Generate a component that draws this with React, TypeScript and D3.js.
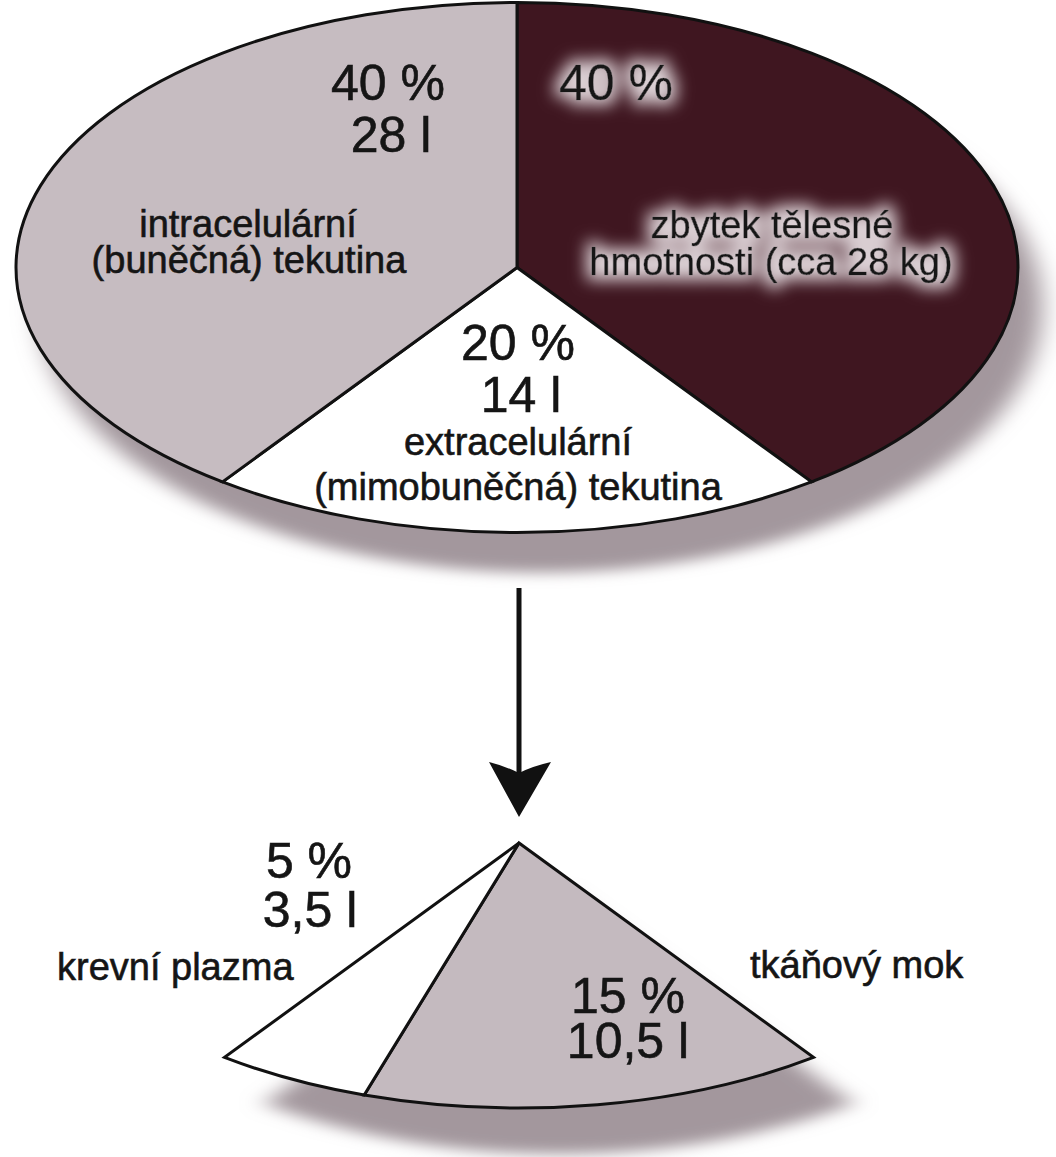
import React from "react";
import * as d3 from "d3";

// ---- data ----
const topCategories = ["zbytek tělesné hmotnosti", "extracelulární tekutina", "intracelulární tekutina"];
const topPercent = [40, 20, 40];
const topLiters = ["", "14 l", "28 l"];
const topNames = [
  ["zbytek tělesné", "hmotnosti (cca 28 kg)"],
  ["extracelulární", "(mimobuněčná) tekutina"],
  ["intracelulární", "(buněčná) tekutina"],
];
const topColors = ["#3f1620", "#ffffff", "#c6bcc1"];

const bottomCategories = ["tkáňový mok", "krevní plazma"];
const bottomPercent = [15, 5];
const bottomLiters = ["10,5 l", "3,5 l"];
const bottomColors = ["#c4babf", "#ffffff"];

// ---- layout ----
const W = 1056;
const H = 1157;
const CX = 517;
const CY = 267.5;
const RX = 501;
const RY = 265;
const AX = 519;
const AY = 843;

const pctText = (v: number) => `${v} %`;

export default function App() {
  const pieTop = d3.pie<number>().sort(null).value((d) => d)(topPercent);
  const extracellular = pieTop[1];
  const pieBottom = d3
    .pie<number>()
    .sort(null)
    .startAngle(extracellular.startAngle)
    .endAngle(extracellular.endAngle)
    .value((d) => d)(bottomPercent);

  const arc = d3.arc<d3.PieArcDatum<number>>().innerRadius(0).outerRadius(RX);
  const ellipseTf = (x: number, y: number) => `translate(${x},${y}) scale(1,${RY / RX})`;
  const fullArc = d3.arc()({ innerRadius: 0, outerRadius: RX, startAngle: 0, endAngle: Math.PI * 2 }) as string;
  const wedgeArc = d3.arc()({
    innerRadius: 0,
    outerRadius: RX,
    startAngle: extracellular.startAngle,
    endAngle: extracellular.endAngle,
  }) as string;

  const font = "'Liberation Sans', Arial, Helvetica, sans-serif";
  const big = 50;
  const small = 38;

  return (
    <svg width={W} height={H} style={{ position: "absolute", left: 0, top: 0, background: "#fff" }}>
      <defs>
        <filter id="shadow" x="-20%" y="-30%" width="140%" height="160%">
          <feGaussianBlur stdDeviation="13" />
        </filter>
        <filter id="glow" x="-30%" y="-60%" width="160%" height="220%">
          <feMorphology in="SourceAlpha" operator="dilate" radius="5" result="d" />
          <feGaussianBlur in="d" stdDeviation="8" result="b" />
          <feFlood floodColor="#e8dfe3" floodOpacity="0.92" />
          <feComposite in2="b" operator="in" result="g" />
          <feMerge>
            <feMergeNode in="g" />
            <feMergeNode in="SourceGraphic" />
          </feMerge>
        </filter>
      </defs>

      {/* shadows */}
      <path d={fullArc} transform={ellipseTf(CX + 24, CY + 40)} fill="#a3979d" filter="url(#shadow)" />
      <path d={wedgeArc} transform={ellipseTf(AX + 40, AY + 46)} fill="#a3979d" filter="url(#shadow)" />

      {/* top ellipse pie */}
      {pieTop.map((d, i) => (
        <path
          key={topCategories[i]}
          d={arc(d) as string}
          transform={ellipseTf(CX, CY)}
          fill={topColors[i]}
          stroke="#111"
          strokeWidth={3}
          vectorEffect="non-scaling-stroke"
          strokeLinejoin="miter"
        />
      ))}

      {/* bottom wedge */}
      {pieBottom.map((d, i) => (
        <path
          key={bottomCategories[i]}
          d={arc(d) as string}
          transform={ellipseTf(AX, AY)}
          fill={bottomColors[i]}
          stroke="#111"
          strokeWidth={3}
          vectorEffect="non-scaling-stroke"
          strokeLinejoin="miter"
        />
      ))}

      {/* arrow */}
      <line x1={AX} x2={AX} y1={588} y2={776} stroke="#111" strokeWidth={5} />
      <path d={`M${AX},817 L${AX - 30},762 Q${AX - 14},766 ${AX},773 Q${AX + 14},766 ${AX + 32},762 Z`} fill="#111" />

      <g fontFamily={font} fill="#151515" stroke="#151515" strokeWidth={0.6} textAnchor="middle">
        {/* intracelulární */}
        <text x={388} y={100} fontSize={big}>{pctText(topPercent[2])}</text>
        <text x={391} y={152} fontSize={big}>{topLiters[2]}</text>
        <text x={248} y={237} fontSize={small}>{topNames[2][0]}</text>
        <text x={249} y={273} fontSize={small}>{topNames[2][1]}</text>

        {/* zbytek */}
        <g filter="url(#glow)">
          <text x={616} y={100} fontSize={big}>{pctText(topPercent[0])}</text>
          <text x={772} y={238} fontSize={small}>{topNames[0][0]}</text>
          <text x={771} y={275} fontSize={small}>{topNames[0][1]}</text>
        </g>

        {/* extracelulární */}
        <text x={518} y={360} fontSize={big}>{pctText(topPercent[1])}</text>
        <text x={521} y={412} fontSize={big}>{topLiters[1]}</text>
        <text x={518} y={455} fontSize={small}>{topNames[1][0]}</text>
        <text x={518} y={500} fontSize={small}>{topNames[1][1]}</text>

        {/* krevní plazma */}
        <text x={309} y={878} fontSize={big}>{pctText(bottomPercent[1])}</text>
        <text x={310} y={927} fontSize={big}>{bottomLiters[1]}</text>
        <text x={57} y={980} fontSize={small} textAnchor="start">{bottomCategories[1]}</text>

        {/* tkáňový mok */}
        <text x={628} y={1013} fontSize={big}>{pctText(bottomPercent[0])}</text>
        <text x={628} y={1058} fontSize={big}>{bottomLiters[0]}</text>
        <text x={750} y={978} fontSize={small} textAnchor="start">{bottomCategories[0]}</text>
      </g>
    </svg>
  );
}
